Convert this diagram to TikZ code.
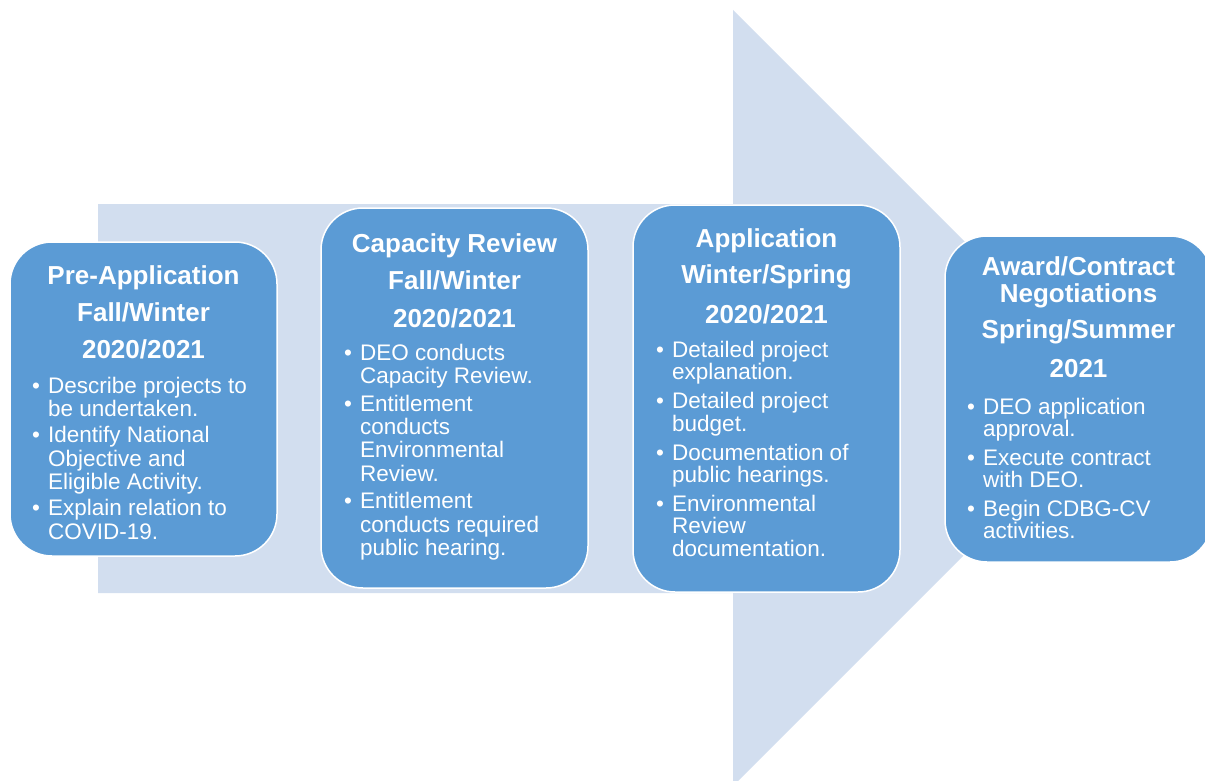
\documentclass[tikz,border=0pt]{standalone}
\usepackage{fontspec}
\setmainfont{Liberation Sans}
\definecolor{arrowc}{RGB}{210,222,239}
\definecolor{boxc}{RGB}{91,155,213}
\newcommand\hl[1]{\hbox to 0pt{\hss#1\hss}}
\newcommand\bitem[1]{\hbox{\makebox[16pt][l]{\textbullet}#1}}
\newcommand\bcont[1]{\hbox{\hspace{16pt}#1}}
\newcommand\vt[1]{\vtop{\lineskiplimit=-100pt\relax #1}}
\tikzset{
  stagebox/.style={rectangle, rounded corners=42pt, fill=boxc, draw=white, line width=1.5pt, inner sep=0pt},
  head/.style={anchor=base, inner sep=0pt, text=white, font=\bfseries\fontsize{26}{28}\selectfont},
  blist/.style={anchor=base west, inner sep=0pt, text=white, font=\fontsize{22.5}{#1}\selectfont},
}
\begin{document}
\begin{tikzpicture}[x=1pt,y=-1pt]
\useasboundingbox (0,0) rectangle (1205,781);
\clip (0,0) rectangle (1205,781);
\fill[arrowc] (98,204) -- (733,204) -- (733,10) -- (1121,398) -- (733,786) -- (733,593) -- (98,593) -- cycle;

\node[stagebox, minimum width=267pt, minimum height=314pt] (b1) at (143.5,399) {};
\node[stagebox, minimum width=267pt, minimum height=380pt] (b2) at (454.5,398) {};
\node[stagebox, minimum width=267pt, minimum height=387pt] (b3) at (766.5,398.5) {};
\node[stagebox, minimum width=267pt, minimum height=326pt] (b4) at (1078.5,399) {};

\node[head] (h1) at (143.5,284) {\vt{\hl{Pre-Application}\vskip9pt\hl{Fall/Winter}\vskip9pt\hl{2020/2021}}};
\node[head] (h2) at (454.5,252) {\vt{\hl{Capacity Review}\vskip9pt\hl{Fall/Winter}\vskip10pt\hl{2020/2021}}};
\node[head] (h3) at (766.5,247) {\vt{\hl{Application}\vskip8pt\hl{Winter/Spring}\vskip12pt\hl{2020/2021}}};
\node[head] (h4) at (1078.5,275) {\vt{\hl{Award/Contract}\vskip-1pt\hl{Negotiations}\vskip8pt\hl{Spring/Summer}\vskip11pt\hl{2021}}};

\node[blist=23.5pt] (l1) at (32,393) {\vt{\bitem{Describe projects to}\bcont{be undertaken.}\vskip2.5pt
  \bitem{Identify National}\bcont{Objective and}\bcont{Eligible Activity.}\vskip2.5pt
  \bitem{Explain relation to}\bcont{COVID-19.}}};
\node[blist=23.3pt] (l2) at (344,360) {\vt{\bitem{DEO conducts}\bcont{Capacity Review.}\vskip4.5pt
  \bitem{Entitlement}\bcont{conducts}\bcont{Environmental}\bcont{Review.}\vskip4.5pt
  \bitem{Entitlement}\bcont{conducts required}\bcont{public hearing.}}};
\node[blist=22.5pt] (l3) at (656,357) {\vt{\bitem{Detailed project}\bcont{explanation.}\vskip6.5pt
  \bitem{Detailed project}\bcont{budget.}\vskip6.5pt
  \bitem{Documentation of}\bcont{public hearings.}\vskip6pt
  \bitem{Environmental}\bcont{Review}\bcont{documentation.}}};
\node[blist=22pt] (l4) at (967,414) {\vt{\bitem{DEO application}\bcont{approval.}\vskip7.5pt
  \bitem{Execute contract}\bcont{with DEO.}\vskip6.5pt
  \bitem{Begin CDBG-CV}\bcont{activities.}}};
\end{tikzpicture}
\end{document}
